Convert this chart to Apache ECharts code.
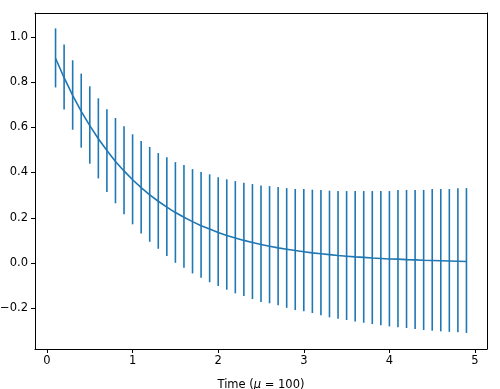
<!DOCTYPE html>
<html>
<head>
<meta charset="utf-8">
<script src="https://cdn.jsdelivr.net/npm/echarts@6/dist/echarts.min.js"></script>
<style>html,body{margin:0;padding:0;background:#fff}#c{width:500px;height:389px}</style>
</head>
<body>
<div id="c"></div>
<script>
const times = [0.1,0.2,0.3,0.4,0.5,0.6,0.7,0.8,0.9,1.0,1.1,1.2,1.3,1.4,1.5,1.6,1.7,1.8,1.9,2.0,2.1,2.2,2.3,2.4,2.5,2.6,2.7,2.8,2.9,3.0,3.1,3.2,3.3,3.4,3.5,3.6,3.7,3.8,3.9,4.0,4.1,4.2,4.3,4.4,4.5,4.6,4.7,4.8,4.9];
const meanValues = [0.905,0.819,0.741,0.670,0.607,0.549,0.497,0.449,0.407,0.368,0.333,0.301,0.273,0.247,0.223,0.202,0.183,0.165,0.150,0.135,0.122,0.111,0.100,0.091,0.082,0.074,0.067,0.061,0.055,0.050,0.045,0.041,0.037,0.033,0.030,0.027,0.025,0.022,0.020,0.018,0.017,0.015,0.014,0.012,0.011,0.010,0.009,0.008,0.007];
const upperValues = [1.037,0.966,0.896,0.837,0.781,0.728,0.680,0.641,0.604,0.569,0.539,0.513,0.486,0.467,0.446,0.433,0.415,0.402,0.392,0.379,0.370,0.362,0.355,0.349,0.343,0.340,0.336,0.331,0.327,0.327,0.324,0.323,0.320,0.318,0.318,0.318,0.318,0.318,0.318,0.318,0.323,0.323,0.323,0.323,0.327,0.327,0.327,0.331,0.331];
const lowerValues = [0.776,0.679,0.589,0.510,0.439,0.374,0.314,0.264,0.215,0.171,0.131,0.094,0.063,0.031,0.001,-0.021,-0.046,-0.065,-0.085,-0.102,-0.118,-0.134,-0.146,-0.159,-0.172,-0.178,-0.187,-0.198,-0.208,-0.213,-0.221,-0.231,-0.240,-0.246,-0.252,-0.258,-0.264,-0.270,-0.275,-0.280,-0.284,-0.287,-0.292,-0.296,-0.299,-0.302,-0.304,-0.306,-0.309];
const xTicks = [0,1,2,3,4,5];
const yTicks = [-0.2,0.0,0.2,0.4,0.6,0.8,1.0];

const blue = '#1f77b4';
const font = 'DejaVu Sans';
const fs = 11.5;
const chart = echarts.init(document.getElementById('c'), null, {renderer:'canvas'});
const lineData = times.map((t,i)=>[t, meanValues[i]]);
const errData = times.map((t,i)=>[t, lowerValues[i], upperValues[i]]);
const X_MIN = -0.14, X_MAX = 5.14, Y_MIN = -0.38, Y_MAX = 1.105;
const frameAxis = {axisLine:{show:true,onZero:false,lineStyle:{color:'#000',width:1}},axisTick:{show:false},axisLabel:{show:false},splitLine:{show:false}};
chart.setOption({
  animation:false,
  backgroundColor:'#fff',
  grid:{left:35,right:13,top:13,bottom:40,containLabel:false,outerBoundsMode:'none'},
  xAxis:[{
    type:'value', min:X_MIN, max:X_MAX, position:'bottom',
    name:'{a|Time (}{b|μ}{a| = 100)}', nameLocation:'middle', nameGap:30,
    nameTextStyle:{rich:{a:{fontFamily:font,fontSize:fs,color:'#000'},b:{fontFamily:font,fontSize:fs,fontStyle:'italic',color:'#000'}}},
    axisLine:{show:true,onZero:false,lineStyle:{color:'#000',width:1}},
    axisTick:{show:true,length:4,lineStyle:{color:'#000'},customValues:xTicks},
    axisLabel:{customValues:xTicks,fontFamily:font,fontSize:fs,color:'#000',margin:6,formatter:v=>String(Math.round(v))},
    splitLine:{show:false}
  },Object.assign({type:'value',min:X_MIN,max:X_MAX,position:'top'},frameAxis)],
  yAxis:[{
    type:'value', min:Y_MIN, max:Y_MAX, position:'left',
    axisLine:{show:true,onZero:false,lineStyle:{color:'#000',width:1}},
    axisTick:{show:true,length:4,lineStyle:{color:'#000'},customValues:yTicks},
    axisLabel:{customValues:yTicks,fontFamily:font,fontSize:fs,color:'#000',margin:7,formatter:v=>(v<0?'\u2212':'')+Math.abs(v).toFixed(1)},
    splitLine:{show:false}
  },Object.assign({type:'value',min:Y_MIN,max:Y_MAX,position:'right'},frameAxis)],
  series:[
    {type:'line',data:lineData,showSymbol:false,symbol:'none',lineStyle:{color:blue,width:1.6},z:3},
    {type:'custom',data:errData,z:2,
     renderItem:function(params,api){
       const x=api.value(0);
       const p1=api.coord([x,api.value(1)]);
       const p2=api.coord([x,api.value(2)]);
       return {type:'line',shape:{x1:p1[0],y1:p1[1],x2:p2[0],y2:p2[1]},style:{stroke:blue,lineWidth:1.6}};
     },
     encode:{x:0,y:[1,2]}
    }
  ]
});
</script>
</body>
</html>
